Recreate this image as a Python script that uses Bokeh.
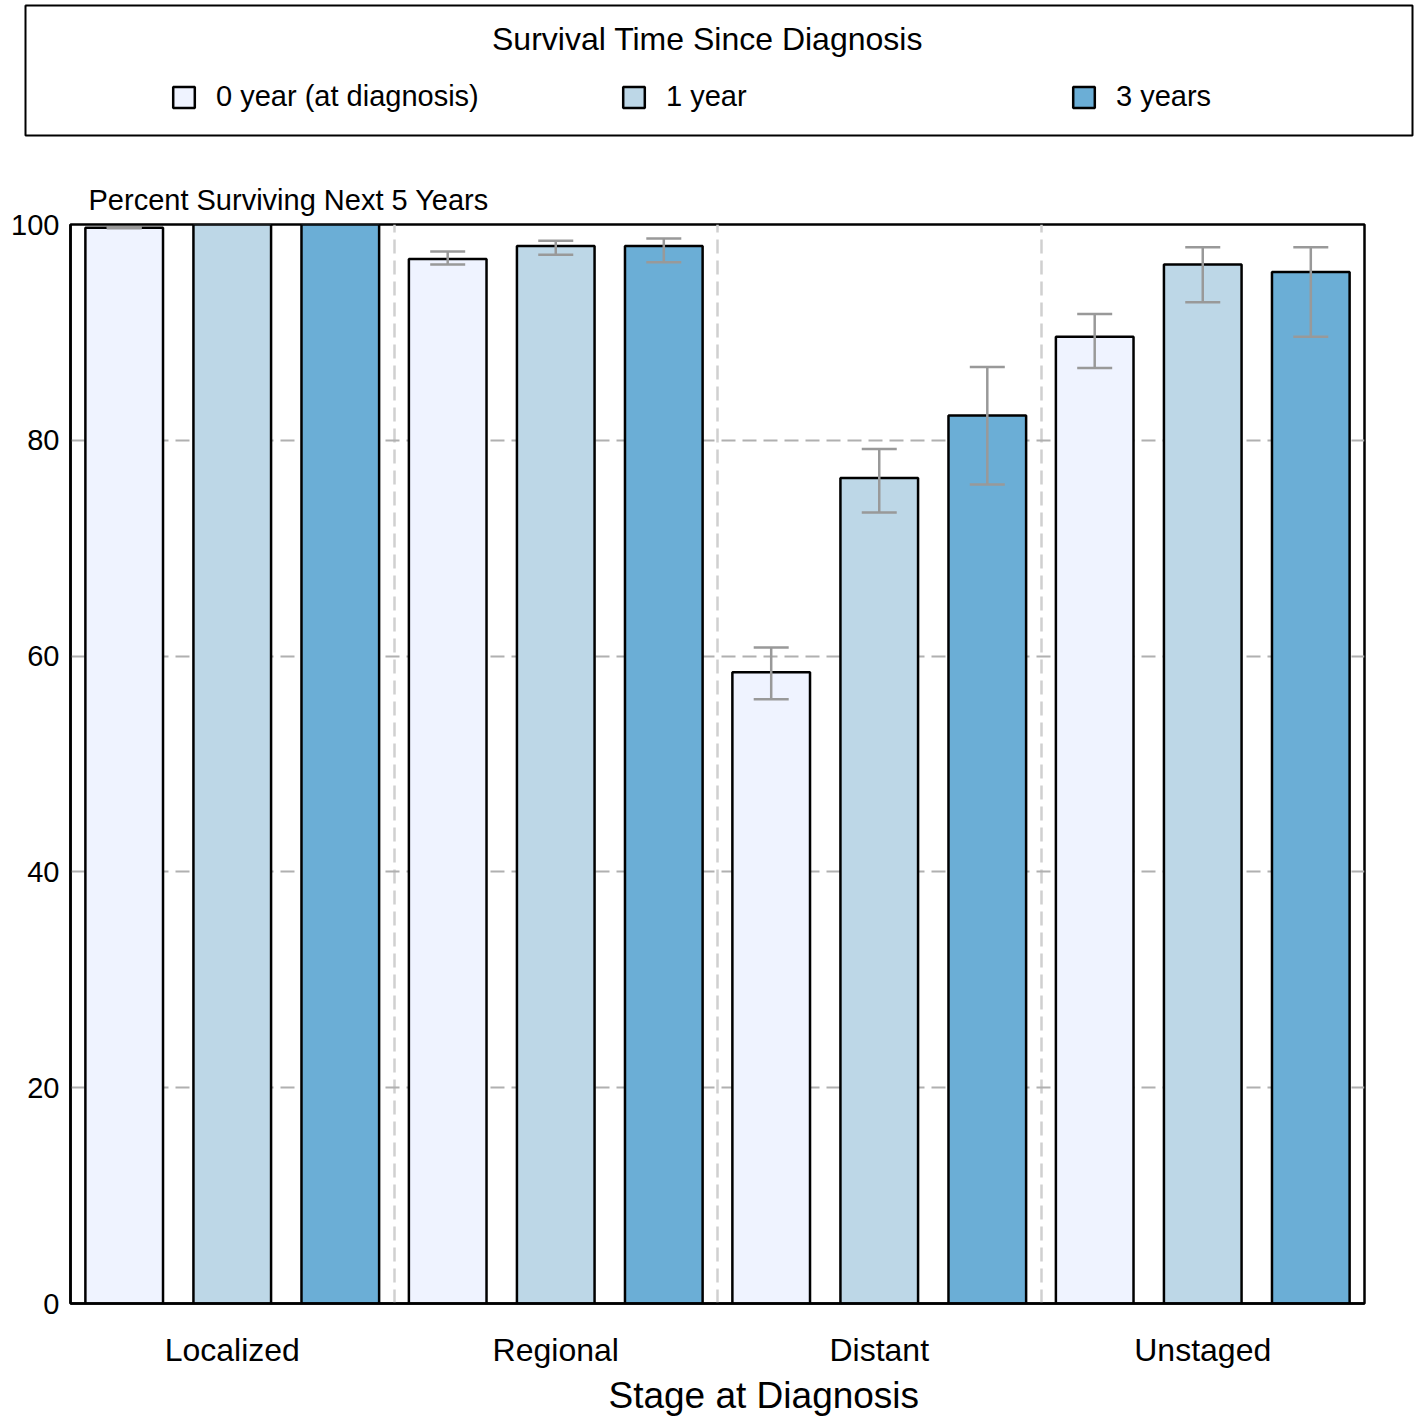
from bokeh.plotting import figure
from bokeh.models import (ColumnDataSource, Range1d, FixedTicker, Whisker, TeeHead,
                          Legend, LegendItem, Label, Title)
from bokeh.layouts import column
from bokeh.embed import file_html
from bokeh.resources import INLINE
import numpy as np

# ---------------- data ----------------
stages = ["Localized", "Regional", "Distant", "Unstaged"]
series = ["0 year (at diagnosis)", "1 year", "3 years"]
colors = ["#eff3ff", "#bdd7e7", "#6baed6"]

surv_0 = [99.7, 96.8, 58.5, 89.6]
low_0 = [99.65, 96.3, 56.0, 86.7]
up_0 = [99.75, 97.5, 60.8, 91.7]

surv_1 = [100.0, 98.0, 76.5, 96.3]
low_1 = [None, 97.2, 73.3, 92.8]
up_1 = [None, 98.5, 79.2, 97.9]

surv_3 = [100.0, 98.0, 82.3, 95.6]
low_3 = [None, 96.5, 75.9, 89.6]
up_3 = [None, 98.7, 86.8, 97.9]

y_ticks = [0, 20, 40, 60, 80, 100]

values = [surv_0, surv_1, surv_3]
lows = [low_0, low_1, low_3]
ups = [up_0, up_1, up_3]

FONT = "Liberation Sans"
offsets = [-0.334, 0.0, 0.334]
bar_w = 0.24

# ---------------- legend figure ----------------
lf = figure(frame_width=1387, frame_height=130, width=1414, height=150,
            x_range=Range1d(25, 1412), y_range=Range1d(135, 5),
            x_axis_location=None, y_axis_location=None,
            min_border_left=25, min_border_right=2, min_border_top=5, min_border_bottom=15,
            toolbar_location=None, output_backend="svg")
lf.frame_align = False
lf.grid.visible = False
lf.outline_line_color = "black"
lf.outline_line_width = 2
lf.background_fill_color = "white"
lf.border_fill_color = "white"

items = []
for name, col in zip(series, colors):
    # off-screen dummy glyph used only for the legend swatch
    r = lf.vbar(x=[-1000], top=[0], bottom=[1], width=1, fill_color=col,
                line_color="black", line_width=2.5)
    items.append(LegendItem(label=name, renderers=[r]))

legend = Legend(items=items, orientation="horizontal", location=(145, 22),
                glyph_width=27, glyph_height=26, label_standoff=19, label_width=404,
                spacing=0, padding=0, margin=0, border_line_color=None,
                background_fill_alpha=0, label_text_font_size="29px",
                label_text_font=FONT, label_text_color="black")
lf.add_layout(legend)
lf.add_layout(Label(x=707, y=38, text="Survival Time Since Diagnosis", text_align="center",
                    text_baseline="middle", text_font_size="32px", text_font=FONT,
                    text_color="black"))

# ---------------- main figure ----------------
p = figure(frame_width=1294, frame_height=1079, width=1414, height=1264,
           x_range=Range1d(-0.5, len(stages) - 0.5), y_range=Range1d(0, 100),
           min_border_left=70, min_border_right=50, min_border_top=74, min_border_bottom=111,
           toolbar_location=None, output_backend="svg",
           title="Percent Surviving Next 5 Years")
p.frame_align = False
p.title.align = "left"
p.title.offset = 18
p.title.text_font_size = "29px"
p.title.text_font_style = "normal"
p.title.text_font = FONT
p.title.text_color = "black"
p.title.standoff = 18
p.background_fill_color = "white"
p.border_fill_color = "white"
p.outline_line_color = "black"
p.outline_line_width = 2.5

idx = np.arange(len(stages))
for k, (vals, lo, hi, col) in enumerate(zip(values, lows, ups, colors)):
    xs = idx + offsets[k]
    src = ColumnDataSource(dict(x=xs, top=vals))
    p.vbar(x="x", top="top", width=bar_w, bottom=0, source=src,
           fill_color=col, line_color="black", line_width=2.5)
    keep = [i for i in range(len(stages)) if lo[i] is not None]
    wsrc = ColumnDataSource(dict(x=[xs[i] for i in keep],
                                 lo=[lo[i] for i in keep],
                                 hi=[hi[i] for i in keep]))
    w = Whisker(source=wsrc, base="x", lower="lo", upper="hi", level="overlay",
                line_color="#999999", line_width=2.5,
                upper_head=TeeHead(size=35, line_color="#999999", line_width=2.5),
                lower_head=TeeHead(size=35, line_color="#999999", line_width=2.5))
    p.add_layout(w)

# axes
p.xaxis.ticker = FixedTicker(ticks=list(idx))
p.xaxis.major_label_overrides = {int(i): s for i, s in zip(idx, stages)}
p.xaxis.major_label_text_font_size = "32px"
p.xaxis.major_label_standoff = 28

# x-axis title (slightly right of centre, as in the original)
p.add_layout(Title(text="Stage at Diagnosis", align="left", offset=538,
                   text_font_size="37px", text_font_style="normal", text_font=FONT,
                   text_color="black", standoff=4), "below")

p.yaxis.ticker = FixedTicker(ticks=y_ticks)
p.yaxis.major_label_text_font_size = "29px"
p.yaxis.major_label_standoff = 11

for ax in (p.xaxis, p.yaxis):
    ax.major_tick_line_color = None
    ax.minor_tick_line_color = None
    ax.major_tick_in = 0
    ax.major_tick_out = 0
    ax.axis_line_color = "black"
    ax.axis_line_width = 2.5
    ax.major_label_text_font = FONT
    ax.major_label_text_color = "black"

# grids
p.ygrid.ticker = FixedTicker(ticks=[t for t in y_ticks if 0 < t < 100])
p.ygrid.grid_line_color = "#b0b0b0"
p.ygrid.grid_line_width = 2
p.ygrid.grid_line_dash = "14 7"
p.xgrid.ticker = FixedTicker(ticks=[i + 0.5 for i in idx[:-1]])
p.xgrid.grid_line_color = "#d0d0d0"
p.xgrid.grid_line_width = 2.5
p.xgrid.grid_line_dash = "14 7"

layout = column(lf, p, spacing=0)
open("out.html", "w").write(file_html(layout, INLINE))
